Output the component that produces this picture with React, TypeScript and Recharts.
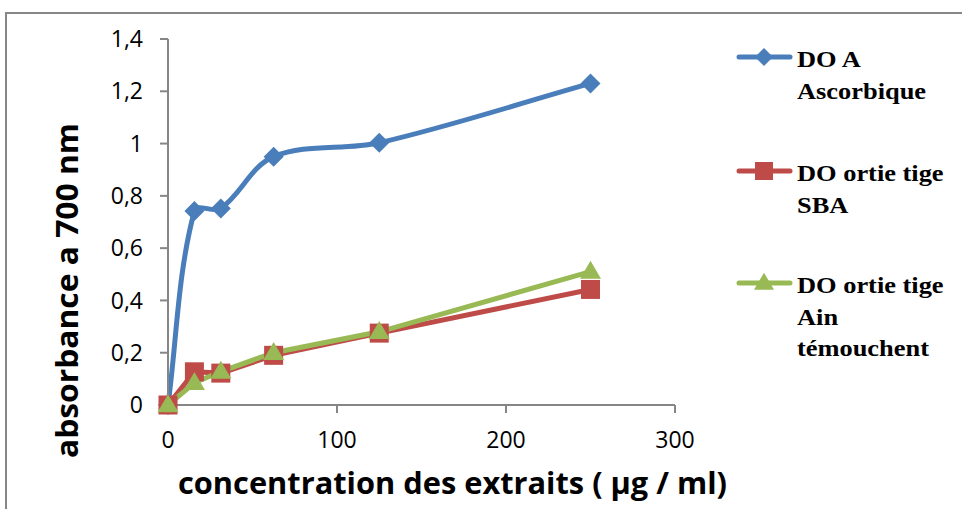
import { type FC } from "react"
import { Line, LineChart, XAxis, YAxis } from "recharts"

// concentrations (µg/ml)
const concentrations = [0, 15.625, 31.25, 62.5, 125, 250]

const ascorbique = [0, 0.742, 0.752, 0.95, 1.003, 1.23]
const tigeSBA = [0, 0.127, 0.122, 0.19, 0.275, 0.442]
const tigeAin = [0, 0.085, 0.128, 0.2, 0.28, 0.51]

const xTicks = [0, 100, 200, 300]
const yTicks = [0, 0.2, 0.4, 0.6, 0.8, 1, 1.2, 1.4]

const seriesNames = [
  ["DO A", "Ascorbique"],
  ["DO ortie tige", "SBA"],
  ["DO ortie tige", "Ain", "témouchent"],
]

const BLUE = "#4a7ebb"
const RED = "#be4b48"
const GREEN = "#98b954"
const AXIS = "#868686"

const data = concentrations.map((c, i) => ({
  c,
  ascorbique: ascorbique[i],
  sba: tigeSBA[i],
  ain: tigeAin[i],
}))

// smoothed line: tangent follows neighbours, handle length follows the segment
const smoothCurve = (context: any) => {
  let pts: number[][] = []
  const tangent = (i: number) => {
    const a = pts[i - 1] ?? pts[i]
    const b = pts[i + 1] ?? pts[i]
    const dx = b[0] - a[0]
    const dy = b[1] - a[1]
    const len = Math.hypot(dx, dy) || 1
    return [dx / len, dy / len]
  }
  return {
    areaStart() {},
    areaEnd() {},
    lineStart() {
      pts = []
    },
    lineEnd() {
      if (!pts.length) return
      context.moveTo(pts[0][0], pts[0][1])
      for (let i = 0; i < pts.length - 1; i++) {
        const p1 = pts[i]
        const p2 = pts[i + 1]
        const h = Math.hypot(p2[0] - p1[0], p2[1] - p1[1]) / 3
        const t1 = tangent(i)
        const t2 = tangent(i + 1)
        context.bezierCurveTo(
          p1[0] + t1[0] * h,
          p1[1] + t1[1] * h,
          p2[0] - t2[0] * h,
          p2[1] - t2[1] * h,
          p2[0],
          p2[1]
        )
      }
    },
    point(x: number, y: number) {
      pts.push([+x, +y])
    },
  }
}

const Diamond = ({ cx, cy, fill, r = 10 }: any) => (
  <path d={`M${cx},${cy - r}L${cx + r},${cy}L${cx},${cy + r}L${cx - r},${cy}Z`} fill={fill} />
)
const Square = ({ cx, cy, fill, s = 19 }: any) => (
  <rect x={cx - s / 2} y={cy - s / 2} width={s} height={s} fill={fill} />
)
const Triangle = ({ cx, cy, fill, w = 21, h = 18 }: any) => (
  <path
    d={`M${cx},${cy - h * 0.6}L${cx + w / 2},${cy + h * 0.4}L${cx - w / 2},${cy + h * 0.4}Z`}
    fill={fill}
  />
)

const markers = [Diamond, Square, Triangle]
const colors = [BLUE, RED, GREEN]

const makeDot = (Shape: any, fill: string) => (props: any) =>
  <Shape key={`d-${props.index}`} cx={props.cx} cy={props.cy} fill={fill} />

const fmt = (v: number) => String(v).replace(".", ",")

const tickStyle = { fontSize: 23, fill: "#000", fontFamily: "'Open Sans', sans-serif" }

const legendTop = [57, 171, 283]

const Legend: FC = () => (
  <svg
    width={962}
    height={509}
    style={{ position: "absolute", left: 0, top: 0, pointerEvents: "none" }}
  >
    {seriesNames.map((lines, i) => {
      const Shape = markers[i]
      const y = legendTop[i]
      return (
        <g key={i}>
          <line x1={739} x2={790} y1={y} y2={y} stroke={colors[i]} strokeWidth={5} strokeLinecap="round" />
          <Shape cx={764} cy={y} fill={colors[i]} r={9} s={18} w={20} h={17} />
          {lines.map((t, j) => (
            <text
              key={j}
              transform={`translate(797 ${y + 10 + j * 31.5}) scale(1.1 1)`}
              fontFamily="'Liberation Serif', serif"
              fontWeight="bold"
              fontSize={24}
              fill="#000"
            >
              {t}
            </text>
          ))}
        </g>
      )
    })}
  </svg>
)

const App: FC = () => (
  <div
    style={{
      position: "absolute",
      left: 0,
      top: 0,
      width: 962,
      height: 509,
      overflow: "hidden",
      background: "#fff",
    }}
  >
    <div
      style={{
        position: "absolute",
        left: 5,
        top: 12,
        width: 980,
        height: 520,
        border: "2px solid #878787",
      }}
    />
    <div style={{ position: "absolute", left: 0, top: 0 }}>
      <LineChart
        width={962}
        height={509}
        data={data}
        margin={{ top: 39, right: 287, bottom: 64, left: 108 }}
      >
        <XAxis
          dataKey="c"
          type="number"
          domain={[0, 300]}
          ticks={xTicks}
          height={40}
          stroke={AXIS}
          strokeWidth={2}
          tickSize={8}
          tickMargin={19}
          tick={tickStyle}
          label={() => (
            <text
              x={178}
              y={494}
              textLength={549}
              lengthAdjust="spacingAndGlyphs"
              fontFamily="'Open Sans', sans-serif"
              fontWeight="bold"
              fontSize={31}
              fill="#000"
            >
              concentration des extraits ( µg / ml)
            </text>
          )}
        />
        <YAxis
          type="number"
          domain={[0, 1.4]}
          ticks={yTicks}
          width={60}
          stroke={AXIS}
          strokeWidth={2}
          tickSize={8}
          tickMargin={17}
          tick={tickStyle}
          tickFormatter={fmt}
          label={() => (
            <text
              transform="translate(78 458) rotate(-90)"
              textLength={335}
              lengthAdjust="spacingAndGlyphs"
              fontFamily="'Open Sans', sans-serif"
              fontWeight="bold"
              fontSize={31}
              fill="#000"
            >
              absorbance a 700 nm
            </text>
          )}
        />
        <Line
          dataKey="ascorbique"
          type={smoothCurve as any}
          stroke={BLUE}
          strokeWidth={5}
          dot={makeDot(Diamond, BLUE)}
          isAnimationActive={false}
        />
        <Line
          dataKey="sba"
          type="linear"
          stroke={RED}
          strokeWidth={5}
          dot={makeDot(Square, RED)}
          isAnimationActive={false}
        />
        <Line
          dataKey="ain"
          type="linear"
          stroke={GREEN}
          strokeWidth={5}
          dot={makeDot(Triangle, GREEN)}
          isAnimationActive={false}
        />
      </LineChart>
    </div>
    <Legend />
  </div>
)

export default App
